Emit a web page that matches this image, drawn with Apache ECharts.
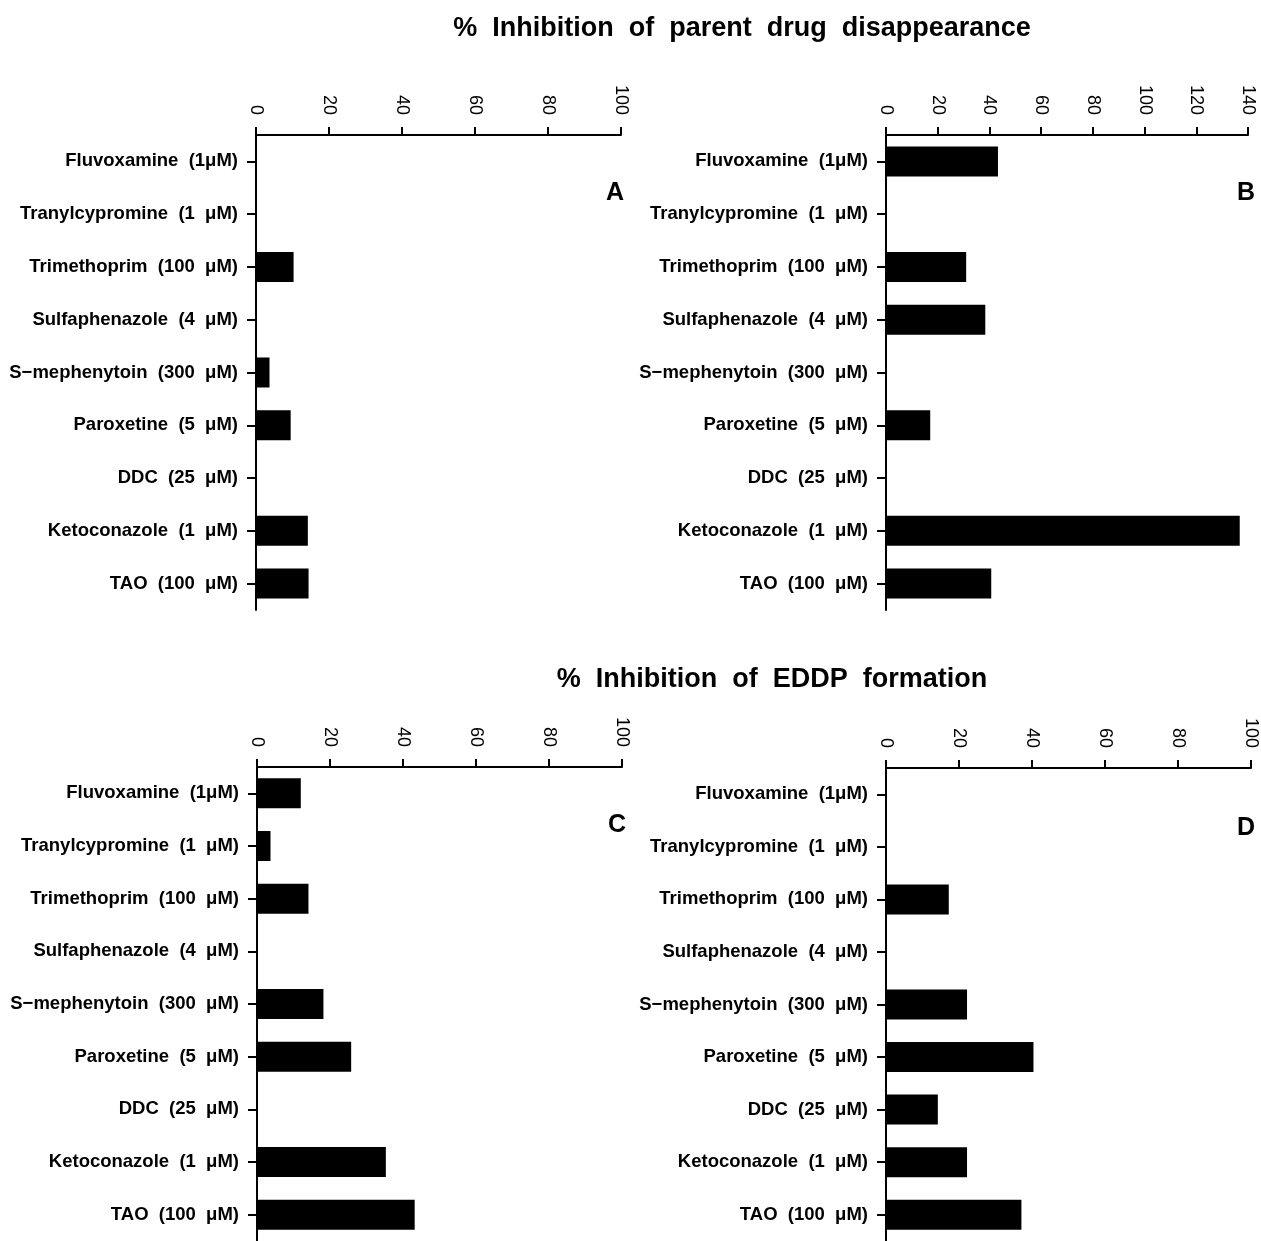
<!DOCTYPE html>
<html>
<head>
<meta charset="utf-8">
<script src="https://cdn.jsdelivr.net/npm/echarts@6/dist/echarts.min.js"></script>
<style>
html,body{margin:0;padding:0;background:#fff;}
#chart{width:1261px;height:1241px;}
</style>
</head>
<body>
<div id="chart"></div>
<script>
// ---- data ----
const categories = [
  "Fluvoxamine  (1μM)",
  "Tranylcypromine  (1  μM)",
  "Trimethoprim  (100  μM)",
  "Sulfaphenazole  (4  μM)",
  "S−mephenytoin  (300  μM)",
  "Paroxetine  (5  μM)",
  "DDC  (25  μM)",
  "Ketoconazole  (1  μM)",
  "TAO  (100  μM)"
];
const valuesA = [0, 0, 10.3, 0, 3.7, 9.5, 0, 14.2, 14.4];
const valuesB = [43.3, 0, 31.0, 38.4, 0, 17.1, 0, 136.8, 40.7];
const valuesC = [12.0, 3.7, 14.1, 0, 18.2, 25.8, 0, 35.3, 43.2];
const valuesD = [0, 0, 17.2, 0, 22.2, 40.4, 14.2, 22.2, 37.1];
const axisMaxA = 100, axisMaxB = 140, axisMaxC = 100, axisMaxD = 100;
const tickStep = 20;
const titleTop = "%  Inhibition  of  parent  drug  disappearance";
const titleBottom = "%  Inhibition  of  EDDP  formation";
const panelLetters = ["A", "B", "C", "D"];

const chart = echarts.init(document.getElementById('chart'));
const FONT = "Liberation Sans, Arial, sans-serif";

const grids = [
  {left: 256, top: 135, width: 365, height: 475},
  {left: 886, top: 135, width: 362, height: 475},
  {left: 257, top: 767, width: 365, height: 475},
  {left: 886, top: 768, width: 365, height: 475}
];
const maxes = [axisMaxA, axisMaxB, axisMaxC, axisMaxD];
const datas = [valuesA, valuesB, valuesC, valuesD];

const xAxes = grids.map((g, i) => ({
  type: 'value', gridIndex: i, position: 'top', min: 0, max: maxes[i], interval: tickStep,
  axisLine: {show: true, lineStyle: {color: '#000', width: 2}},
  axisTick: {show: true, length: 8, inside: false, lineStyle: {color: '#000', width: 2}},
  axisLabel: {rotate: 90, margin: 20, color: '#000', fontSize: 18, fontFamily: FONT},
  splitLine: {show: false}
}));
const yAxes = grids.map((g, i) => ({
  type: 'category', gridIndex: i, data: categories, inverse: true,
  axisLine: {show: true, onZero: false, lineStyle: {color: '#000', width: 2}},
  axisTick: {show: true, alignWithLabel: true, length: 9, lineStyle: {color: '#000', width: 2}},
  axisLabel: {margin: 18, color: '#000', fontSize: 18.5, fontWeight: 'bold', fontFamily: FONT}
}));
const series = datas.map((d, i) => ({
  type: 'bar', xAxisIndex: i, yAxisIndex: i, data: d, barWidth: 30,
  itemStyle: {color: '#000'}, silent: true
}));

const letterPos = [[615, 193], [1246, 193], [617, 825], [1246, 828]];

chart.setOption({
  animation: false,
  backgroundColor: '#fff',
  title: [
    {text: titleTop, left: 737, top: 10, textAlign: 'center',
     textStyle: {fontSize: 27, fontWeight: 'bold', color: '#000', fontFamily: FONT}},
    {text: titleBottom, left: 767, top: 661, textAlign: 'center',
     textStyle: {fontSize: 27, fontWeight: 'bold', color: '#000', fontFamily: FONT}}
  ],
  grid: grids,
  xAxis: xAxes,
  yAxis: yAxes,
  series: series,
  graphic: panelLetters.map((t, i) => ({
    type: 'text', x: letterPos[i][0], y: letterPos[i][1],
    style: {text: t, fontSize: 25, fontWeight: 'bold', fill: '#000', fontFamily: FONT,
            align: 'center', verticalAlign: 'middle'}
  }))
});
</script>
</body>
</html>
